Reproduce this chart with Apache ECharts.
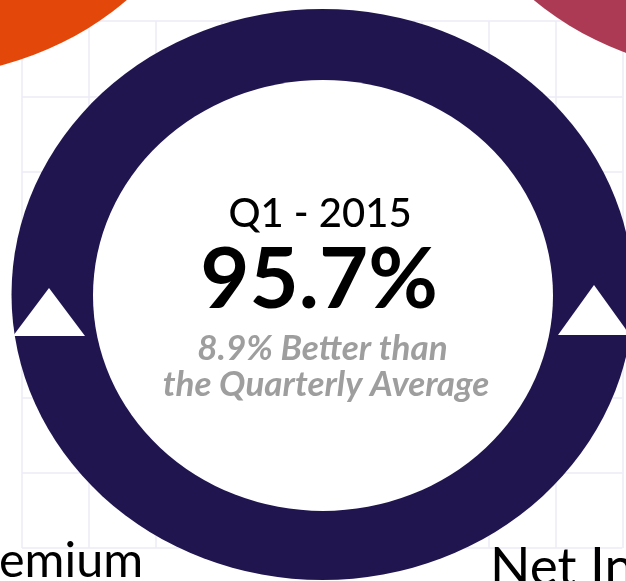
<!DOCTYPE html>
<html>
<head>
<meta charset="utf-8">
<script src="https://cdn.jsdelivr.net/npm/echarts@6/dist/echarts.min.js"></script>
<style>
  html, body { margin: 0; padding: 0; background: #fff; }
  #chart { width: 626px; height: 581px; }
</style>
</head>
<body>
<div id="chart"></div>
<script>
// backdrop grid: number of cells across / down
const gridCols = 9
const gridRows = 7

// ring data
const quarterLabel = 'Q1 - 2015'
const ringValue = [95.7]
const betterBy = [8.9]
const compareText = 'the Quarterly Average'

// labels of the neighbour rings (cut by the frame)
const sideLabels = ['emium', 'Net In']

const navy = '#211550'

const chart = echarts.init(document.getElementById('chart'))

// 中间的环 + 两个白色三角
function renderRing(params, api) {
  return {
    type: 'group',
    children: [
      {
        type: 'circle',
        x: 322.5, y: 294.5, scaleX: 311 / 285.5,
        shape: { cx: 0, cy: 0, r: 285.5 },
        style: { fill: navy }
      },
      {
        type: 'circle',
        x: 323, y: 295.5, scaleX: 230 / 215.5,
        shape: { cx: 0, cy: 0, r: 215.5 },
        style: { fill: '#fff' }
      },
      {
        type: 'polygon',
        shape: { points: [[13, 336], [85, 336], [49, 288]] },
        style: { fill: '#fff' }
      },
      {
        type: 'polygon',
        shape: { points: [[558, 335], [630, 335], [594, 285]] },
        style: { fill: '#fff' }
      }
    ]
  }
}

const hiddenAxis = (max) => ({
  type: 'value',
  min: 0,
  max: max,
  interval: 1,
  axisLine: { show: false },
  axisTick: { show: false },
  axisLabel: { show: false },
  splitLine: { show: true, lineStyle: { color: '#ecebf6', width: 1.5 } }
})

const option = {
  animation: false,
  backgroundColor: '#fff',
  grid: { left: 22, right: 3.7, top: 21, bottom: 32.9 },
  xAxis: hiddenAxis(gridCols),
  yAxis: hiddenAxis(gridRows),
  series: [
    {
      type: 'custom',
      coordinateSystem: 'none',
      data: ringValue.map(v => [v]),
      renderItem: renderRing,
      silent: true,
      z: 3
    }
  ],
  graphic: [
    // neighbour rings, only their edges show
    {
      type: 'circle', x: -85, y: -209, scaleX: 311 / 285.5, z: 2,
      shape: { cx: 0, cy: 0, r: 285.5 },
      style: { fill: '#e4470a' }
    },
    {
      type: 'circle', x: 742, y: -212, scaleX: 311 / 285.5, z: 2,
      shape: { cx: 0, cy: 0, r: 285.5 },
      style: { fill: '#ad3a55' }
    },
    {
      type: 'text', x: 320, y: 214, z: 10,
      style: { text: quarterLabel, font: '500 40px Lato', fill: '#000', textAlign: 'center', verticalAlign: 'middle' }
    },
    {
      type: 'text', x: 319, y: 280.5, z: 10,
      style: { text: ringValue[0] + '%', font: '700 85px Lato', fill: '#000', textAlign: 'center', verticalAlign: 'middle' }
    },
    {
      type: 'text', x: 322.5, y: 349, z: 10,
      style: { text: betterBy[0] + '% Better than', font: 'italic 700 35px Lato', fill: '#9e9e9e', textAlign: 'center', verticalAlign: 'middle' }
    },
    {
      type: 'text', x: 326, y: 385, z: 10,
      style: { text: compareText, font: 'italic 700 35px Lato', fill: '#9e9e9e', textAlign: 'center', verticalAlign: 'middle' }
    },
    {
      type: 'text', x: -1, y: 561, z: 10,
      style: { text: sideLabels[0], font: '400 48.5px Lato', fill: '#000', textAlign: 'left', verticalAlign: 'middle' }
    },
    {
      type: 'text', x: 490, y: 568, z: 10,
      style: { text: sideLabels[1], font: '400 53px Lato', fill: '#000', textAlign: 'left', verticalAlign: 'middle' }
    }
  ]
}

chart.setOption(option)
</script>
</body>
</html>
